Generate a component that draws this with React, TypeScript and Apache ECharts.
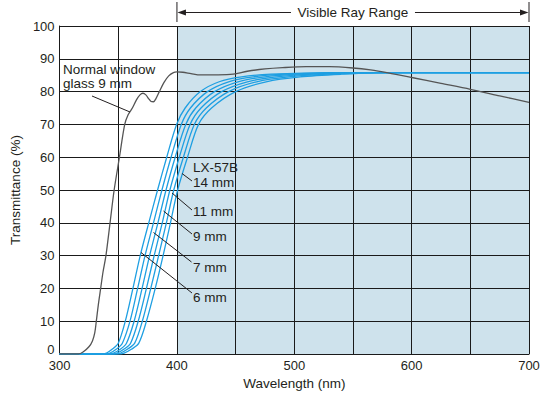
import React, { useEffect, useRef } from "react";
import * as echarts from "echarts";

// ---------- data ----------
const xLabelValues = [300, 400, 500, 600, 700];
const visibleRange = [400, 700];

const glass9mm: [number, number][] = [
  [300, 0], [316, 0], [320, 0.6], [325, 2.2], [328, 4], [330, 6.5], [331.3, 10], [333, 15],
  [335, 20], [337, 25], [339.5, 30], [343, 40], [346.5, 50], [351, 60], [355.5, 70],
  [358.5, 73], [362, 75], [365.5, 77.5], [368.5, 79], [371, 79.5], [373.5, 79], [376, 77.8],
  [378, 77], [380, 76.9], [382, 77.8], [385, 80], [389, 82.8], [393, 84.8], [397, 85.8],
  [400, 86], [405, 85.9], [412, 85.5], [420, 85.1], [435, 85.1], [448, 85.3], [460, 86.2],
  [475, 86.9], [490, 87.3], [510, 87.6], [530, 87.6], [550, 87.2], [565, 86.6], [580, 85.7],
  [600, 84.3], [625, 82.5], [650, 80.7], [675, 78.7], [700, 76.7],
];

const lx6mm: [number, number][] = [
  [300, 0], [335, 0], [340, 0.3], [345, 1.5], [350, 3.3], [356, 10], [362.5, 20], [368.7, 30],
  [376, 40], [383.5, 50], [391.3, 60], [399.7, 70], [407, 75], [420, 80], [436, 83],
  [455, 84.5], [480, 85.3], [530, 85.8], [700, 85.8],
];
const lx7mm: [number, number][] = [
  [300, 0], [338, 0], [343, 0.3], [348.5, 1.5], [353.5, 3.3], [360, 10], [366.5, 20], [372.8, 30],
  [380, 40], [387.2, 50], [395, 60], [403.7, 70], [411.5, 75], [426, 80], [444, 83],
  [465, 84.5], [492, 85.3], [540, 85.8], [700, 85.8],
];
const lx8mm: [number, number][] = [
  [300, 0], [341, 0], [346, 0.3], [352, 1.5], [357, 3.3], [363.5, 10], [370.3, 20], [376.7, 30],
  [383.8, 40], [390.7, 50], [398.5, 60], [407.5, 70], [416, 75], [432, 80], [452, 83],
  [475, 84.5], [504, 85.3], [550, 85.8], [700, 85.8],
];
const lx9mm: [number, number][] = [
  [300, 0], [344, 0], [349, 0.3], [355, 1.5], [360.5, 3.3], [367, 10], [374, 20], [380.6, 30],
  [387.5, 40], [394, 50], [402, 60], [411.2, 70], [420.5, 75], [438, 80], [460, 83],
  [485, 84.5], [516, 85.3], [560, 85.8], [700, 85.8],
];
const lx11mm: [number, number][] = [
  [300, 0], [347, 0], [352, 0.3], [358, 1.5], [364, 3.3], [370.5, 10], [377.7, 20], [384.4, 30],
  [391, 40], [397.3, 50], [405.5, 60], [414.8, 70], [425, 75], [444, 80], [468, 83],
  [495, 84.5], [528, 85.3], [570, 85.8], [700, 85.8],
];
const lx14mm: [number, number][] = [
  [300, 0], [350, 0], [355, 0.3], [361.5, 1.5], [367.5, 3.3], [374, 10], [381.5, 20], [388.2, 30],
  [394.5, 40], [400.6, 50], [409, 60], [418.4, 70], [429.5, 75], [450, 80], [476, 83],
  [505, 84.5], [540, 85.3], [580, 85.8], [700, 85.8],
];

const lxSeries = [
  { name: "LX-57B 6 mm", data: lx6mm },
  { name: "LX-57B 7 mm", data: lx7mm },
  { name: "LX-57B 8 mm", data: lx8mm },
  { name: "LX-57B 9 mm", data: lx9mm },
  { name: "LX-57B 11 mm", data: lx11mm },
  { name: "LX-57B 14 mm", data: lx14mm },
];

// ---------- styles ----------
const FONT = '"Liberation Sans", Arial, Helvetica, sans-serif';
const TXT = "#231f20";
const BLUE = "#1e9fe2";
const GRAY = "#555555";
const GRID = "#1a1a1a";
const SHADE = "#cee2ec";

export default function App() {
  const ref = useRef<HTMLDivElement>(null);

  useEffect(() => {
    if (!ref.current) return;
    const chart = echarts.init(ref.current, null, { renderer: "svg" });

    const option: any = {
      animation: false,
      backgroundColor: "#ffffff",
      grid: { left: 58.5, right: 30, top: 26, bottom: 44 },
      xAxis: {
        type: "value",
        min: 300,
        max: 700,
        interval: 50,
        z: 2,
        name: "Wavelength (nm)",
        nameLocation: "middle",
        nameGap: 19,
        nameTextStyle: { fontFamily: FONT, fontSize: 13.5, color: TXT },
        axisLine: { lineStyle: { color: GRID, width: 1 } },
        axisTick: { show: false },
        axisLabel: {
          margin: 5,
          fontFamily: FONT,
          fontSize: 13,
          color: TXT,
          formatter: (v: number) => (xLabelValues.includes(v) ? String(v) : ""),
        },
        splitLine: { show: true, lineStyle: { color: GRID, width: 1 } },
      },
      yAxis: {
        type: "value",
        min: 0,
        max: 100,
        interval: 10,
        z: 2,
        name: "Transmittance (%)",
        nameLocation: "middle",
        nameGap: 26,
        nameTextStyle: { fontFamily: FONT, fontSize: 13.5, color: TXT },
        axisLine: { show: true, lineStyle: { color: GRID, width: 1 } },
        axisTick: { show: false },
        axisLabel: {
          margin: 5,
          fontFamily: FONT,
          fontSize: 13,
          color: TXT,
          formatter: (v: number) => (v === 0 ? "{zero|0}" : String(v)),
          rich: {
            zero: { fontFamily: FONT, fontSize: 13, color: TXT, padding: [0, 0, 9, 0] },
          },
        },
        splitLine: { show: true, lineStyle: { color: GRID, width: 1 } },
      },
      series: [
        {
          name: "Visible Ray Range",
          type: "line",
          data: [],
          z: 1,
          silent: true,
          markArea: {
            silent: true,
            itemStyle: { color: SHADE },
            data: [[{ xAxis: visibleRange[0] }, { xAxis: visibleRange[1] }]],
          },
        },
        ...lxSeries.map((s) => ({
          name: s.name,
          type: "line",
          data: s.data,
          z: 3,
          smooth: 0.3,
          symbol: "none",
          lineStyle: { color: BLUE, width: 1.3 },
        })),
        {
          name: "Normal window glass 9 mm",
          type: "line",
          data: glass9mm,
          z: 4,
          smooth: 0.3,
          symbol: "none",
          lineStyle: { color: GRAY, width: 1.3 },
        },
      ],
    };
    chart.setOption(option);

    const xl = chart.convertToPixel({ gridIndex: 0 }, [visibleRange[0], 100])[0];
    const xr = chart.convertToPixel({ gridIndex: 0 }, [visibleRange[1], 100])[0];
    const mid = (xl + xr) / 2;
    const ay = 12.5;
    const lineStyle = { stroke: "#231f20", lineWidth: 1 };
    const textStyle = (t: string, x: number, y: number, align = "left") => ({
      type: "text",
      x,
      y,
      style: {
        text: t,
        fill: TXT,
        font: `13.5px ${FONT}`,
        textAlign: align,
        textVerticalAlign: "middle",
      },
      z: 10,
    });
    const seg = (x1: number, y1: number, x2: number, y2: number) => ({
      type: "line",
      shape: { x1, y1, x2, y2 },
      style: lineStyle,
      z: 10,
    });

    chart.setOption({
      graphic: [
        seg(xl, 2, xl, 22),
        seg(xr, 2, xr, 22),
        seg(xl + 6, ay, mid - 62, ay),
        seg(mid + 62, ay, xr - 6, ay),
        {
          type: "polygon",
          shape: { points: [[xl + 0.5, ay], [xl + 9, ay - 3], [xl + 9, ay + 3]] },
          style: { fill: "#231f20" },
          z: 10,
        },
        {
          type: "polygon",
          shape: { points: [[xr - 0.5, ay], [xr - 9, ay - 3], [xr - 9, ay + 3]] },
          style: { fill: "#231f20" },
          z: 10,
        },
        textStyle("Visible Ray Range", mid, ay, "center"),

        textStyle("Normal window", 63, 69),
        textStyle("glass 9 mm", 63, 83),
        seg(92, 96, 130, 112),

        textStyle("LX-57B", 193, 167),
        textStyle("14 mm", 193, 182),
        textStyle("11 mm", 193, 211),
        textStyle("9 mm", 193, 236),
        textStyle("7 mm", 193, 267),
        textStyle("6 mm", 193, 297),
        seg(182, 173.5, 192, 181),
        seg(172, 193, 192, 210),
        seg(163.5, 211, 192, 234),
        seg(153.5, 232.5, 191.5, 262),
        seg(141, 252.5, 192, 293),
      ],
    });

    return () => chart.dispose();
  }, []);

  return (
    <div
      ref={ref}
      style={{ position: "fixed", left: 0, top: 0, width: 559, height: 398 }}
    />
  );
}
